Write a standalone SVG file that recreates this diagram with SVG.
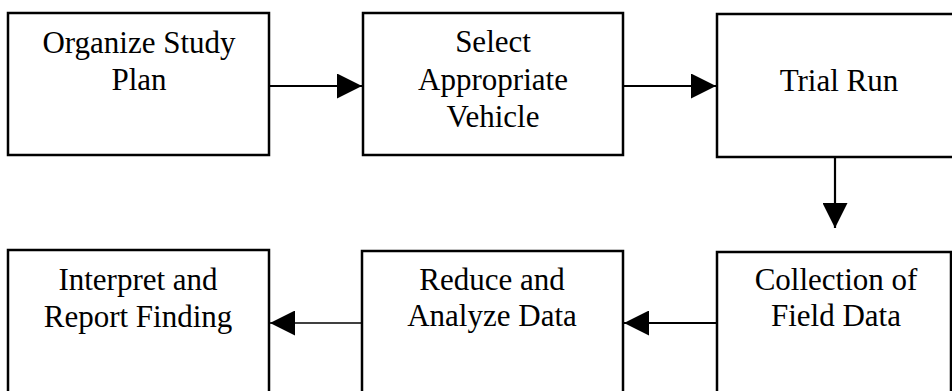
<svg xmlns="http://www.w3.org/2000/svg" width="952" height="391" viewBox="0 0 952 391">
<style>
.box{fill:#fff;stroke:#000;stroke-width:2.5}
.lbl{font-family:"Liberation Serif","Times New Roman",serif;font-size:31px;fill:#000;text-anchor:middle}
.conn{stroke:#000;stroke-width:2.2;fill:none}
.thin{stroke:#000;stroke-width:1.6;fill:none}
</style>
<defs>
<marker id="ah" viewBox="0 0 10 10" refX="10" refY="5" markerWidth="25" markerHeight="25" markerUnits="userSpaceOnUse" orient="auto">
<path d="M0,0 L10,5 L0,10 Z" fill="#000"/>
</marker>
</defs>
<g id="n1"><rect class="box" x="8" y="13" width="261" height="142"/>
<text class="lbl" x="139" y="53">Organize Study</text><text class="lbl" x="139" y="90">Plan</text></g>
<g id="n2"><rect class="box" x="363" y="13" width="260" height="142"/>
<text class="lbl" x="493" y="52">Select</text><text class="lbl" x="493" y="90">Appropriate</text><text class="lbl" x="493" y="127">Vehicle</text></g>
<g id="n3"><rect class="box" x="717" y="14" width="245" height="143"/>
<text class="lbl" x="839" y="91">Trial Run</text></g>
<g id="n4"><rect class="box" x="717" y="252" width="234" height="145"/>
<text class="lbl" x="836" y="290">Collection of</text><text class="lbl" x="836" y="326">Field Data</text></g>
<g id="n5"><rect class="box" x="362" y="251" width="261" height="146"/>
<text class="lbl" x="492" y="290">Reduce and</text><text class="lbl" x="492" y="326">Analyze Data</text></g>
<g id="n6"><rect class="box" x="8" y="250" width="261" height="147"/>
<text class="lbl" x="138" y="290">Interpret and</text><text class="lbl" x="138" y="327">Report Finding</text></g>
<g id="connectors">
<line class="conn" x1="269" y1="86" x2="362" y2="86" marker-end="url(#ah)"/>
<line class="conn" x1="623" y1="86" x2="716" y2="86" marker-end="url(#ah)"/>
<line class="conn" x1="835" y1="157" x2="835" y2="228" marker-end="url(#ah)"/>
<line class="conn" x1="717" y1="323" x2="624" y2="323" marker-end="url(#ah)"/>
<line class="thin" x1="362" y1="323" x2="270" y2="323" marker-end="url(#ah)"/>
</g>
</svg>
